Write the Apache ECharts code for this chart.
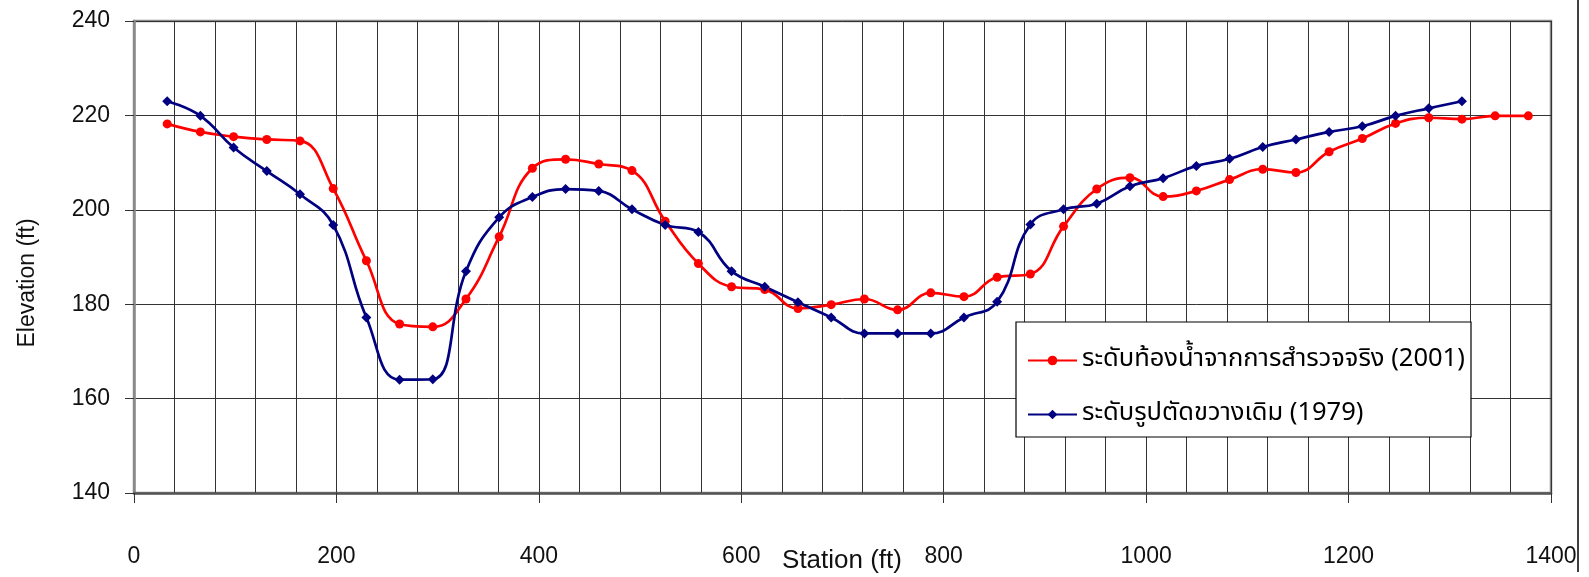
<!DOCTYPE html>
<html>
<head>
<meta charset="utf-8">
<script src="https://cdn.jsdelivr.net/npm/echarts@6/dist/echarts.min.js"></script>
<style>
html,body{margin:0;padding:0;background:#fff;}
#c{width:1589px;height:577px;}
</style>
</head>
<body>
<div id="c"></div>
<script>
// Stations (ft)
var stations2001 = [32.8, 65.6, 98.4, 131.2, 164, 196.8, 229.6, 262.4, 295.2, 328, 360.8, 393.6, 426.4, 459.2, 492, 524.8, 557.6, 590.4, 623.2, 656, 688.8, 721.6, 754.4, 787.2, 820, 852.8, 885.6, 918.4, 951.2, 984, 1016.8, 1049.6, 1082.4, 1115.2, 1148, 1180.8, 1213.6, 1246.4, 1279.2, 1312, 1344.8, 1377.6];
var stations1979 = [32.8, 65.6, 98.4, 131.2, 164, 196.8, 229.6, 262.4, 295.2, 328, 360.8, 393.6, 426.4, 459.2, 492, 524.8, 557.6, 590.4, 623.2, 656, 688.8, 721.6, 754.4, 787.2, 820, 852.8, 885.6, 918.4, 951.2, 984, 1016.8, 1049.6, 1082.4, 1115.2, 1148, 1180.8, 1213.6, 1246.4, 1279.2, 1312];
// Elevations (ft)
var elev2001 = [218.2, 216.5, 215.5, 214.9, 214.6, 204.5, 189.2, 175.8, 175.2, 181.1, 194.3, 208.8, 210.7, 209.7, 208.3, 197.6, 188.6, 183.7, 183.1, 179.1, 179.9, 181.1, 178.8, 182.4, 181.6, 185.7, 186.4, 196.5, 204.4, 206.8, 202.8, 204.0, 206.4, 208.6, 207.9, 212.3, 215.1, 218.3, 219.5, 219.2, 219.9, 219.9];
var elev1979 = [223.0, 219.9, 213.2, 208.2, 203.3, 196.8, 177.2, 164.0, 164.1, 187.0, 198.4, 202.7, 204.4, 204.0, 200.1, 196.8, 195.3, 187.0, 183.7, 180.4, 177.2, 173.8, 173.8, 173.8, 177.2, 180.5, 196.9, 200.1, 201.3, 205.0, 206.7, 209.3, 210.8, 213.3, 214.9, 216.5, 217.7, 219.9, 221.5, 223.0];
var seriesNames = ['ระดับท้องน้ำจากการสำรวจจริง (2001)', 'ระดับรูปตัดขวางเดิม (1979)'];
var xTitle = 'Station (ft)';
var yTitle = 'Elevation (ft)';

function pairs(xs, ys) { return xs.map(function (x, i) { return [x, ys[i]]; }); }

var NARROW = "'Liberation Sans Narrow', 'Arial Narrow', 'Liberation Sans', sans-serif";
var FONT = "'Liberation Sans', Arial, sans-serif";
var chart = echarts.init(document.getElementById('c'), null, {renderer: 'canvas'});
chart.setOption({
  animation: false,
  backgroundColor: '#ffffff',
  grid: {left: 134, right: 38, top: 21, bottom: 84, show: true, borderColor: '#8a8a8a', borderWidth: 2.5, backgroundColor: 'transparent'},
  xAxis: {
    type: 'value', min: 0, max: 1400, interval: 200,
    axisLine: {show: true, onZero: false, lineStyle: {color: '#555555', width: 2.5}},
    axisTick: {show: true, length: 10, lineStyle: {color: '#333333', width: 1}},
    axisLabel: {margin: 52, fontSize: 23, color: '#111111', fontFamily: NARROW, formatter: function (v) { return String(v); }},
    splitLine: {show: true, lineStyle: {color: '#333333', width: 1}},
    minorTick: {show: false, splitNumber: 5},
    minorSplitLine: {show: true, lineStyle: {color: '#333333', width: 1}}
  },
  yAxis: {
    type: 'value', min: 140, max: 240, interval: 20,
    axisLine: {show: true, lineStyle: {color: '#8a8a8a', width: 2.5}},
    axisTick: {show: true, length: 9, lineStyle: {color: '#333333', width: 1}},
    axisLabel: {margin: 24, fontSize: 23, color: '#111111', fontFamily: NARROW, formatter: function (v) { return String(v); }},
    splitLine: {show: true, lineStyle: {color: '#333333', width: 1}}
  },
  legend: {
    orient: 'vertical', left: 1022, top: 342,
    itemWidth: 49, itemHeight: 12, itemGap: 27,
    textStyle: {fontSize: 25.5, color: '#000000', fontFamily: "'Noto Sans Thai', 'Liberation Sans', Arial, sans-serif", lineHeight: 27},
    data: seriesNames
  },
  graphic: [
    {type: 'rect', z: 3, shape: {x: 1016, y: 322, width: 455, height: 115}, style: {fill: '#ffffff', stroke: '#000000', lineWidth: 1.2}},
    {type: 'line', z: 3, shape: {x1: 1578, y1: 0, x2: 1578, y2: 572}, style: {stroke: '#000000', lineWidth: 1.5}},
    {type: 'text', z: 5, x: 28, y: 283, rotation: Math.PI / 2, style: {text: yTitle, font: "23px " + NARROW, fill: '#111111', textAlign: 'center', textVerticalAlign: 'middle'}},
    {type: 'text', z: 5, x: 842, y: 561, style: {text: xTitle, font: "26px " + FONT, fill: '#111111', textAlign: 'center', textVerticalAlign: 'middle'}}
  ],
  series: [
    {
      name: seriesNames[0], type: 'line', data: pairs(stations2001, elev2001),
      smooth: 0.45, symbol: 'circle', symbolSize: 9,
      itemStyle: {color: '#ff0000'}, lineStyle: {color: '#ff0000', width: 2.7}, z: 2
    },
    {
      name: seriesNames[1], type: 'line', data: pairs(stations1979, elev1979),
      smooth: 0.45, symbol: 'diamond', symbolSize: 10,
      itemStyle: {color: '#000080'}, lineStyle: {color: '#000080', width: 2.7}, z: 2
    }
  ]
});
</script>
</body>
</html>
